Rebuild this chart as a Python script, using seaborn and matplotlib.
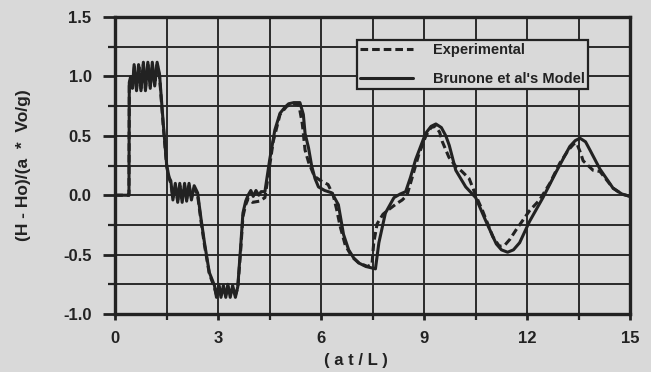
import matplotlib
matplotlib.use("Agg")
import matplotlib.pyplot as plt
import seaborn as sns
import pandas as pd
import numpy as np

# ---- data ----
model_x = [0, 0.40, 0.41, 0.45, 0.50, 0.55, 0.62, 0.68, 0.75, 0.82, 0.88, 0.95, 1.02, 1.08, 1.15,
           1.22, 1.29, 1.40, 1.50, 1.57, 1.62, 1.68, 1.75, 1.82, 1.88, 1.95, 2.02, 2.08, 2.15, 2.22,
           2.30, 2.40, 2.50, 2.60, 2.74, 2.89, 2.95, 3.02, 3.08, 3.15, 3.22, 3.28, 3.35, 3.42, 3.50,
           3.57, 3.65, 3.72, 3.80, 3.87, 3.95, 4.02, 4.10, 4.18, 4.25, 4.36, 4.50, 4.65, 4.80, 4.94,
           5.05, 5.20, 5.38, 5.48, 5.53, 5.63, 5.72, 5.82, 5.92, 6.10, 6.31, 6.50, 6.65, 6.80, 6.95,
           7.09, 7.30, 7.58, 7.68, 7.87, 8.12, 8.30, 8.46, 8.60, 8.75, 9.04, 9.20, 9.34, 9.50, 9.63,
           9.73, 9.92, 10.21, 10.50, 10.80, 11.10, 11.25, 11.43, 11.60, 11.78, 12.07, 12.46, 12.85,
           13.24, 13.40, 13.54, 13.70, 13.83, 14.12, 14.50, 14.76, 15.0]
model_y = [0, 0, 0.95, 1.00, 0.90, 1.10, 0.88, 1.10, 0.88, 1.12, 0.88, 1.12, 0.90, 1.12, 0.92,
           1.12, 1.02, 0.60, 0.25, 0.15, 0.12, -0.04, 0.10, -0.06, 0.10, -0.06, 0.10, -0.05, 0.10, -0.04,
           0.08, 0.02, -0.20, -0.40, -0.65, -0.76, -0.86, -0.75, -0.86, -0.76, -0.86, -0.75, -0.86, -0.76, -0.86,
           -0.77, -0.45, -0.15, -0.05, 0.00, 0.04, -0.01, 0.04, 0.00, 0.03, 0.03, 0.30, 0.55, 0.69, 0.74,
           0.77, 0.78, 0.78, 0.68, 0.52, 0.40, 0.25, 0.14, 0.07, 0.04, 0.02, -0.08, -0.33, -0.46, -0.53,
           -0.57, -0.60, -0.62, -0.40, -0.15, -0.02, 0.01, 0.03, 0.15, 0.30, 0.52, 0.58, 0.60, 0.57, 0.50,
           0.42, 0.21, 0.07, -0.02, -0.22, -0.41, -0.46, -0.48, -0.46, -0.40, -0.22, -0.02, 0.20,
           0.41, 0.46, 0.48, 0.45, 0.38, 0.22, 0.06, 0.01, -0.01]

exp_x = [0, 0.40, 0.41, 0.45, 0.50, 0.56, 0.62, 0.69, 0.75, 0.82, 0.88, 0.95, 1.02, 1.08, 1.15,
         1.22, 1.29, 1.40, 1.50, 1.57, 1.62, 1.68, 1.75, 1.82, 1.88, 1.95, 2.02, 2.08, 2.15, 2.22,
         2.30, 2.40, 2.50, 2.60, 2.74, 2.89, 2.95, 3.02, 3.08, 3.15, 3.22, 3.28, 3.35, 3.42, 3.50,
         3.57, 3.65, 3.72, 3.80, 3.87, 4.00, 4.20, 4.36, 4.45, 4.60, 4.80, 5.00, 5.20, 5.35, 5.45,
         5.53, 5.63, 5.80, 6.00, 6.20, 6.35, 6.45, 6.55, 6.70, 6.90, 7.10, 7.35, 7.48, 7.53, 7.63,
         7.80, 7.97, 8.20, 8.36, 8.50, 8.65, 8.85, 9.05, 9.20, 9.33, 9.45, 9.53, 9.72, 9.90, 10.10,
         10.31, 10.50, 10.70, 11.00, 11.19, 11.35, 11.50, 11.68, 11.90, 12.07, 12.36, 12.66, 12.95,
         13.20, 13.35, 13.44, 13.55, 13.63, 13.92, 14.12, 14.50, 14.75, 15.0]
exp_y = [0, 0, 0.93, 0.98, 0.92, 1.08, 0.90, 1.08, 0.90, 1.10, 0.90, 1.10, 0.92, 1.10, 0.93,
         1.10, 1.00, 0.58, 0.24, 0.14, 0.10, -0.02, 0.08, -0.04, 0.08, -0.04, 0.08, -0.03, 0.08, -0.02,
         0.06, 0.00, -0.22, -0.42, -0.66, -0.78, -0.84, -0.77, -0.84, -0.78, -0.84, -0.77, -0.84, -0.78, -0.84,
         -0.78, -0.48, -0.18, -0.08, -0.03, -0.06, -0.05, -0.02, 0.15, 0.45, 0.68, 0.75, 0.77, 0.76, 0.60,
         0.38, 0.28, 0.16, 0.12, 0.09, 0.00, -0.12, -0.26, -0.42, -0.52, -0.57, -0.60, -0.58, -0.40, -0.24,
         -0.16, -0.12, -0.07, -0.04, 0.00, 0.15, 0.35, 0.50, 0.57, 0.58, 0.53, 0.45, 0.32, 0.25, 0.20,
         0.14, 0.00, -0.13, -0.35, -0.43, -0.42, -0.37, -0.29, -0.20, -0.13, -0.04, 0.10, 0.27,
         0.38, 0.43, 0.44, 0.36, 0.29, 0.21, 0.20, 0.06, 0.01, -0.01]

x_ticks = [0, 3, 6, 9, 12, 15]
y_ticks = [-1.0, -0.5, 0.0, 0.5, 1.0, 1.5]
x_label = "( a t / L )"
y_label = "(H - Ho)/(a  *  Vo/g)"
series_names = ["Experimental", "Brunone et al's Model"]

# ---- style ----
sns.set_theme(style="white")
bg = "#d9d9d9"
ink = "#222222"
plt.rcParams["font.family"] = ["Liberation Sans", "DejaVu Sans"]
plt.rcParams["font.weight"] = "bold"

fig = plt.figure(figsize=(6.51, 3.72), dpi=100, facecolor=bg)
ax = fig.add_axes([0.177, 0.156, 0.791, 0.798])
ax.set_facecolor(bg)

df_exp = pd.DataFrame({"x": exp_x, "y": exp_y})
df_mod = pd.DataFrame({"x": model_x, "y": model_y})

sns.lineplot(data=df_exp, x="x", y="y", ax=ax, sort=False, estimator=None, color=ink,
             lw=2.2, linestyle=(0, (2.5, 1.3)), label=series_names[0], zorder=4)
sns.lineplot(data=df_mod, x="x", y="y", ax=ax, sort=False, estimator=None, color=ink,
             lw=2.2, label=series_names[1], zorder=3)

ax.set_xlim(0, 15)
ax.set_ylim(-1.0, 1.5)
ax.set_xticks(x_ticks)
ax.set_yticks(y_ticks)
ax.set_xticks(np.arange(0, 15.01, 1.5), minor=True)
ax.set_yticks(np.arange(-1.0, 1.51, 0.25), minor=True)
ax.set_yticklabels([f"{v:.1f}" for v in y_ticks])
ax.grid(which="both", color="#2a2a2a", lw=1.4)
ax.set_axisbelow(True)
for s in ax.spines.values():
    s.set_color(ink)
    s.set_linewidth(2.4)
ax.tick_params(which="both", direction="out", color=ink, labelsize=12, labelcolor=ink,
               left=True, bottom=True)
ax.tick_params(axis="y", which="major", length=8.5, width=2, pad=8.5)
ax.tick_params(axis="y", which="minor", length=5, width=1.6)
ax.tick_params(axis="x", which="major", length=4, width=2, pad=8)
ax.tick_params(axis="x", which="minor", length=4, width=1.6)
for lab in ax.get_xticklabels() + ax.get_yticklabels():
    lab.set_fontweight("bold")

ax.set_xlabel(x_label, fontsize=12, fontweight="bold", color=ink)
ax.xaxis.set_label_coords(0.468, -0.133)
ax.set_ylabel(y_label, fontsize=12.5, fontweight="bold", color=ink, va="center", ha="center")
ax.yaxis.set_label_coords(-0.179, 0.5)

leg = ax.legend(loc="upper right", bbox_to_anchor=(0.918, 0.923), frameon=True, fancybox=False,
                prop={"weight": "bold", "size": 10.5}, handlelength=3.6, borderpad=0.2,
                labelspacing=1.05, handletextpad=1.4, borderaxespad=0)
leg.get_frame().set_facecolor(bg)
leg.get_frame().set_edgecolor(ink)
leg.get_frame().set_linewidth(1.6)
leg.get_frame().set_alpha(1)
for t in leg.get_texts():
    t.set_color(ink)

fig.savefig("out.png", dpi=100, facecolor=bg)
